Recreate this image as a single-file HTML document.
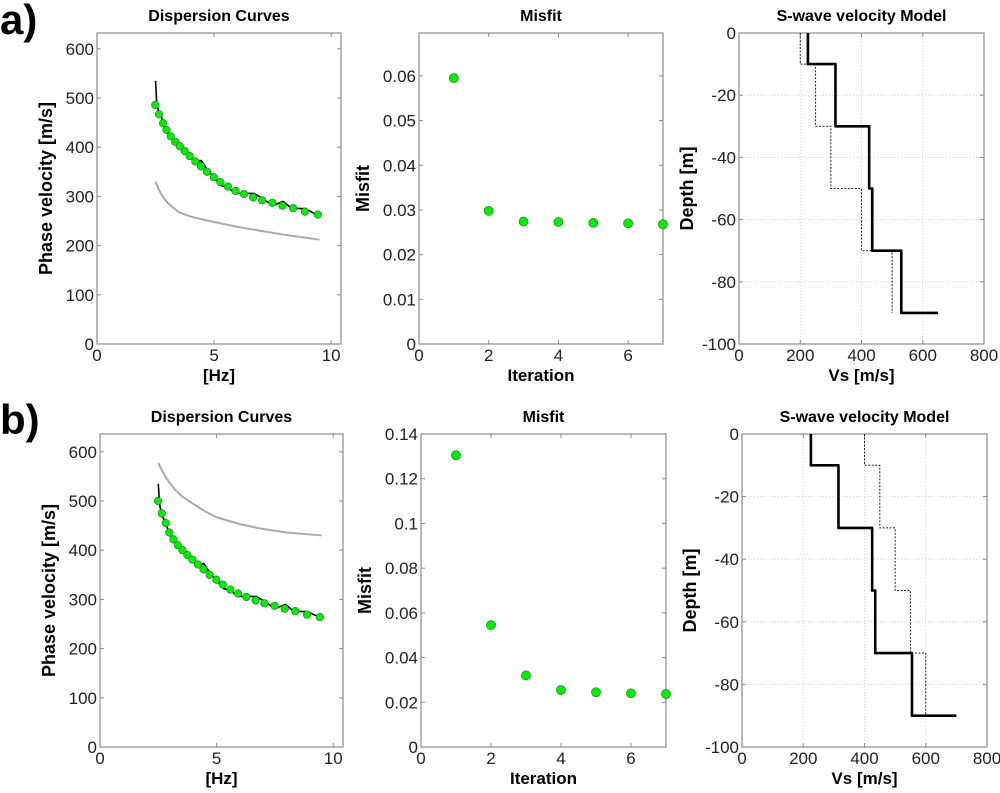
<!DOCTYPE html>
<html><head><meta charset="utf-8"><style>
body{margin:0;background:#fff;width:1000px;height:788px;overflow:hidden}
svg{font-family:"Liberation Sans",Arial,sans-serif}
</style></head><body>
<svg id="s" width="1000" height="788" xmlns="http://www.w3.org/2000/svg">
<text x="0" y="34" font-size="42" font-weight="bold">a)</text>
<text x="0" y="434" font-size="42" font-weight="bold">b)</text>
</svg>
<script>
// ---- data ----
const dispFreqA = [2.49,2.65,2.82,2.97,3.15,3.34,3.54,3.75,3.96,4.2,4.44,4.7,4.99,5.27,5.59,5.92,6.28,6.67,7.05,7.49,7.92,8.38,8.88,9.43];
const dispObsA = [486,467,449,435,422,411,402,392,382,371,361,350,339,329,320,311,305,298,292,287,281,276,269,263];
const dispObsB = [500,475,455,436,422,410,400,390,381,371,361,350,340,330,320,312,305,298,292,287,281,276,269,264];
const fitFreq = [2.5,2.55,2.65,2.75,2.85,3.0,3.3,3.6,4.0,4.2,4.45,4.7,5.0,5.3,5.6,5.9,6.3,6.7,7.1,7.5,7.95,8.3,8.9,9.5];
const fitVelA = [535,490,468,462,447,430,410,395,380,368,373,355,338,322,318,306,306,306,295,281,290,276,275,260];
const fitVelB = [535,495,470,462,450,432,410,395,380,368,373,355,338,322,318,306,306,306,295,281,290,276,275,262];
const initFreq = [2.5,2.65,2.8,3.0,3.2,3.5,4,4.5,5,6,7,8,9.5];
const initVelA = [330,313,300,288,279,268,259,253,248,238,230,222,212];
const initVelB = [577,563,550,536,524,510,494,479,467,453,443,436,430];
const iterations = [1,2,3,4,5,6,7];
const misfitA = [0.0595,0.0298,0.0274,0.0273,0.0271,0.0270,0.0268];
const misfitB = [0.1305,0.0545,0.032,0.0255,0.0245,0.024,0.0237];
const layerTops = [0,10,30,50,70];
const layerBottoms = [10,30,50,70,90];
const vsFinalA = [225,315,425,435,530];
const vsTrueA = [200,250,300,400,500];
const halfspaceA = [650,500];
const vsFinalB = [225,315,425,435,555];
const vsTrueB = [400,450,500,550,600];
const halfspaceB = [700,600];
const dispTicksY = [0,100,200,300,400,500,600];
const dispTicksX = [0,5,10];
const misTicksA = [0,0.01,0.02,0.03,0.04,0.05,0.06];
const misTicksB = [0,0.02,0.04,0.06,0.08,0.1,0.12,0.14];
const iterTicks = [0,2,4,6];
const depthTicks = [0,-20,-40,-60,-80,-100];
const vsTicks = [0,200,400,600,800];

const svg=document.getElementById('s');
const NS='http://www.w3.org/2000/svg';
function el(tag,attrs,parent){const e=document.createElementNS(NS,tag);for(const k in attrs)e.setAttribute(k,attrs[k]);(parent||svg).appendChild(e);return e;}

function axes(o){
  const g=el('g',{});
  
  
  const sx=v=>o.L+(v-o.x0)/(o.x1-o.x0)*(o.R-o.L);
  const sy=v=>o.B-(v-o.y0)/(o.y1-o.y0)*(o.B-o.T);
  if(o.grid){
    o.xt.forEach(t=>{const x=sx(t);if(x>o.L+1&&x<o.R-1){const l=el('line',{x1:x,x2:x,y1:o.T,y2:o.B,stroke:'#c8c8c8','stroke-dasharray':'1,2','stroke-width':0.8},g);}});
    o.yt.forEach(t=>{const y=sy(t);if(y>o.T+1&&y<o.B-1){const l=el('line',{x1:o.L,x2:o.R,y1:y,y2:y,stroke:'#c8c8c8','stroke-dasharray':'1,2','stroke-width':0.8},g);}});
  }
  const fr=el('rect',{x:o.L,y:o.T,width:o.R-o.L,height:o.B-o.T,fill:'none',stroke:'#8c8c8c','stroke-width':1.2},g);
  
  
  o.xt.forEach(t=>{const x=sx(t);
    el('line',{x1:x,x2:x,y1:o.B,y2:o.B-4,stroke:'#8c8c8c'},g);el('line',{x1:x,x2:x,y1:o.T,y2:o.T+4,stroke:'#8c8c8c'},g);
    const tx=el('text',{x:x,y:o.B+17,'font-size':17,'text-anchor':'middle',fill:'#222'},g);tx.textContent=String(t);
    });
  o.yt.forEach(t=>{const y=sy(t);
    el('line',{x1:o.L,x2:o.L+4,y1:y,y2:y,stroke:'#8c8c8c'},g);el('line',{x1:o.R,x2:o.R-4,y1:y,y2:y,stroke:'#8c8c8c'},g);
    const tx=el('text',{x:o.L-3,y:y+6,'font-size':17,'text-anchor':'end',fill:'#222'},g);tx.textContent=String(t);
    });
  const ti=el('text',{x:(o.L+o.R)/2,y:o.T-12,'font-size':16,'font-weight':'bold','text-anchor':'middle'},g);ti.textContent=o.title;
  
  const xl=el('text',{x:(o.L+o.R)/2,y:o.B+37,'font-size':17,'font-weight':'bold','text-anchor':'middle'},g);xl.textContent=o.xl;
  
  const cy=(o.T+o.B)/2, cx=o.L-o.ylo;
  const yl=el('text',{x:cx,y:cy,'font-size':18,'font-weight':'bold','text-anchor':'middle',transform:`rotate(-90 ${cx} ${cy})`},g);yl.textContent=o.yl;
  
  return {g,sx,sy};
}
function poly(a,xs,ys,attrs,name){
  const p=el('polyline',Object.assign({points:xs.map((x,i)=>a.sx(x)+','+a.sy(ys[i])).join(' '),fill:'none','stroke-linejoin':'round'},attrs),a.g);
  
  
}
function dots(a,xs,ys,r,name){
  xs.forEach((x,i)=>{const c=el('circle',{cx:a.sx(x),cy:a.sy(ys[i]),r:r,fill:'#00ee00',stroke:'#3a6a3a','stroke-width':0.6},a.g);
    
    });
}
function steps(vs,half){
  const xs=[],ys=[];
  vs.forEach((v,i)=>{xs.push(v,v);ys.push(-layerTops[i],-layerBottoms[i]);});
  xs.push(half);ys.push(-layerBottoms[layerBottoms.length-1]);
  return [xs,ys];
}
function panel(T,B,dL,dR,mL,mR,vL,vR,obs,fitV,initV,mis,misT,misMax,vsF,vsT,hs,sfx){
  const d=axes({name:'dispersion-chart-'+sfx,L:dL,R:dR,T:T,B:B,x0:0,x1:10.42,y0:0,y1:(B-T)/0.492,xt:dispTicksX,yt:dispTicksY,title:'Dispersion Curves',xl:'[Hz]',yl:'Phase velocity [m/s]',ylo:45});
  poly(d,initFreq,initV,{stroke:'#aaaaaa','stroke-width':2},'initial-dispersion-curve');
  poly(d,fitFreq,fitV,{stroke:'#000','stroke-width':1.6},'fitted-dispersion-curve');
  dots(d,dispFreqA,obs,3.8,'observed-dispersion-point');
  const m=axes({name:'misfit-chart-'+sfx,L:mL,R:mR,T:T,B:B,x0:0,x1:7,y0:0,y1:misMax,xt:iterTicks,yt:misT,title:'Misfit',xl:'Iteration',yl:'Misfit',ylo:50});
  dots(m,iterations,mis,4.6,'misfit-point');
  const v=axes({name:'vs-model-chart-'+sfx,L:vL,R:vR,T:T,B:B,x0:0,x1:800,y0:-100,y1:0,xt:vsTicks,yt:depthTicks,title:'S-wave velocity Model',xl:'Vs [m/s]',yl:'Depth [m]',ylo:46,grid:true});
  const t=steps(vsT,hs[1]);poly(v,t[0],t[1],{stroke:'#222','stroke-width':1,'stroke-dasharray':'2,1.5'},'true-vs-model');
  const f=steps(vsF,hs[0]);poly(v,f[0],f[1],{stroke:'#000','stroke-width':2.6},'inverted-vs-model');
}
panel(33,344,97,341,419,663,739,984,dispObsA,fitVelA,initVelA,misfitA,misTicksA,0.0696,vsFinalA,vsTrueA,halfspaceA,'a');
panel(434,747,100,343,421,666,742,987,dispObsB,fitVelB,initVelB,misfitB,misTicksB,0.14,vsFinalB,vsTrueB,halfspaceB,'b');
</script>
</body></html>
